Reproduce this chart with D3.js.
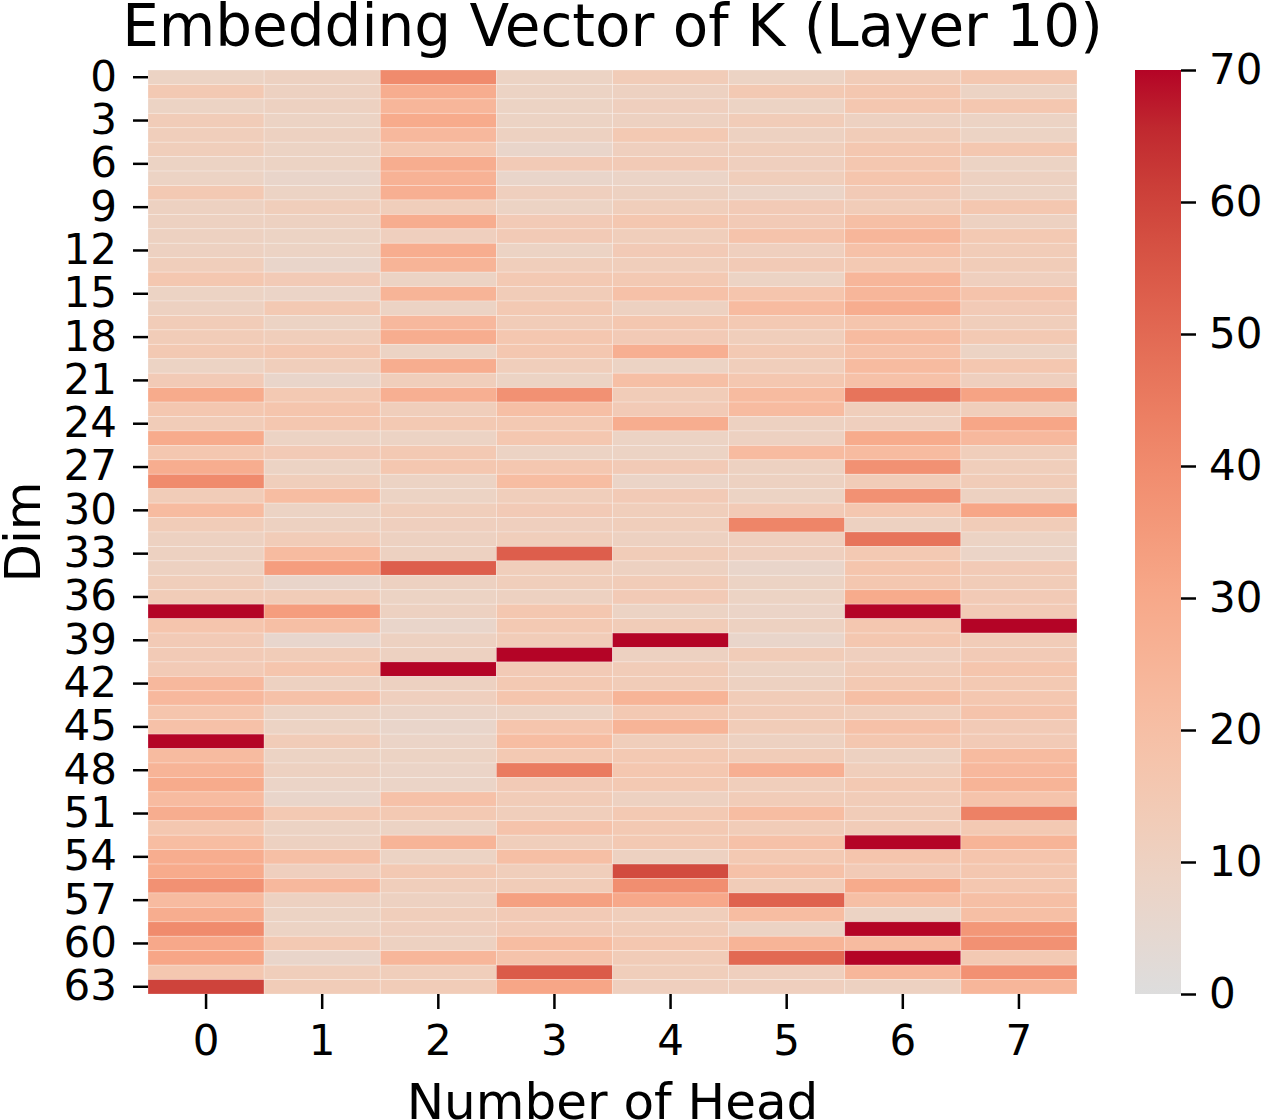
<!DOCTYPE html>
<html>
<head>
<meta charset="utf-8">
<script src="https://cdn.jsdelivr.net/npm/d3@7"></script>
<style>
  body { margin: 0; background: #fff; }
  text { font-family: "DejaVu Sans", sans-serif; fill: #000; }
</style>
</head>
<body>
<div id="viz"></div>
<script>
// values per head (dims 0..63)
const head0 = [9,15,9,13,12,12,9,9,15,10, 10,10,10,12,16,9,10,13,13,15, 9,14,29,16,13,29,16,28,40,13,
  22,13,10,10,10,12,13,70,17,14, 14,14,23,23,17,19,70,22,25,29, 22,28,16,21,28,29,38,22,28,40, 30,31,16,60];
const head1 = [10,10,10,9,10,9,9,7,9,12, 10,9,9,7,14,8,15,9,12,16, 12,7,15,17,16,9,14,9,12,21,
  9,10,13,22,34,7,13,34,20,6, 13,17,10,19,9,9,13,9,10,8, 7,15,9,10,20,11,23,10,9,9, 15,7,12,13];
const head2 = [40,28,24,29,23,16,28,26,27,12, 28,11,28,25,9,25,9,23,28,9, 28,12,27,12,15,9,15,16,9,9,
  12,11,10,10,53,10,9,10,7,10, 10,70,10,11,8,7,8,9,8,8, 19,15,9,25,9,15,12,10,12,11, 10,24,12,13];
const head3 = [9,9,9,9,10,7,14,7,11,9, 14,14,9,12,15,13,15,13,16,16, 12,9,38,20,15,16,9,16,21,12,
  14,11,12,53,12,12,10,16,15,13, 70,14,15,17,9,17,21,15,45,14, 13,12,18,12,20,12,13,33,14,14, 21,18,54,31];
const head4 = [13,10,11,10,15,11,14,8,10,12, 16,12,14,12,15,19,10,16,14,27, 9,20,13,14,28,9,9,14,8,14,
  12,12,10,13,10,13,14,9,13,70, 10,13,13,25,15,25,12,15,16,15, 10,15,15,15,10,58,39,30,12,13, 16,13,12,11];
const head5 = [9,15,9,13,10,12,11,12,8,14, 14,18,11,14,9,17,22,15,12,15, 12,16,22,22,10,10,22,10,10,9,
  14,42,11,11,7,9,9,8,10,7, 13,9,10,13,13,13,10,13,27,12, 13,21,13,19,15,19,13,52,21,9, 25,50,11,11];
const head6 = [13,16,16,10,13,16,16,17,14,13, 20,24,19,15,24,24,28,17,22,19, 22,19,47,12,11,29,22,38,13,38,
  16,10,47,15,17,16,29,70,16,16, 11,13,15,20,12,19,16,10,12,15, 13,13,13,70,17,14,29,20,9,70, 22,70,24,10];
const head7 = [16,9,16,9,9,16,9,10,9,16, 10,15,13,13,11,18,14,12,15,9, 16,11,32,12,31,23,12,12,13,10,
  31,13,9,8,14,13,14,14,70,13, 14,17,15,16,18,14,14,22,23,25, 18,43,15,25,17,16,16,20,20,36, 38,15,38,24];

const heads = [head0, head1, head2, head3, head4, head5, head6, head7];
const headLabels = d3.range(8);
const dims = d3.range(64);
const dimTicks = d3.range(0, 64, 3);
const cbarTicks = [0, 10, 20, 30, 40, 50, 60, 70];

// upper half of coolwarm
const cwStops = ["#dddddd","#e5d8d1","#ecd3c5","#f1ccb8","#f5c4ac","#f7bba0","#f7b194","#f7a788",
  "#f49a7b","#f18d6f","#ec7f63","#e57058","#de604d","#d55042","#cb3e38","#c0282f","#b40426"];

const W = 1262, H = 1120;
const margin = {top: 70, left: 148, right: 185, bottom: 126};
const plotR = 1077;

const svg = d3.select("#viz").append("svg")
  .attr("width", W).attr("height", H);

const x = d3.scaleBand().domain(headLabels).range([margin.left, plotR]);
const y = d3.scaleBand().domain(dims).range([margin.top, H - margin.bottom]);
const color = d3.scaleLinear()
  .domain(cwStops.map((c, i) => i * 70 / (cwStops.length - 1)))
  .range(cwStops)
  .clamp(true);

const cells = [];
heads.forEach((arr, h) => arr.forEach((v, d) => cells.push({h, d, v})));

svg.append("g").selectAll("rect")
  .data(cells)
  .enter().append("rect")
  .attr("x", c => x(c.h))
  .attr("y", c => y(c.d))
  .attr("width", x.bandwidth())
  .attr("height", y.bandwidth())
  .attr("fill", c => color(c.v))
  .attr("stroke", "rgba(255,255,255,0.3)")
  .attr("stroke-width", 0.8);

// axes
const xAxis = svg.append("g")
  .attr("transform", `translate(0,${H - margin.bottom})`)
  .call(d3.axisBottom(x).tickSize(15).tickPadding(16));
const yAxis = svg.append("g")
  .attr("transform", `translate(${margin.left},0)`)
  .call(d3.axisLeft(y).tickValues(dimTicks).tickSize(15).tickPadding(16));
[xAxis, yAxis].forEach(a => {
  a.select(".domain").remove();
  a.selectAll(".tick line").attr("stroke", "#000").attr("stroke-width", 2.5);
  a.selectAll(".tick text").style("font-size", "42px").style("font-family", "DejaVu Sans");
});

// colorbar
const cbX = 1135, cbW = 46;
const defs = svg.append("defs");
const grad = defs.append("linearGradient").attr("id", "cb")
  .attr("x1", 0).attr("y1", 1).attr("x2", 0).attr("y2", 0);
cwStops.forEach((c, i) => grad.append("stop")
  .attr("offset", i / (cwStops.length - 1)).attr("stop-color", c));
svg.append("rect")
  .attr("x", cbX).attr("y", margin.top)
  .attr("width", cbW).attr("height", H - margin.bottom - margin.top)
  .attr("fill", "url(#cb)");
const cb = d3.scaleLinear().domain([0, 70]).range([H - margin.bottom, margin.top]);
const cAxis = svg.append("g")
  .attr("transform", `translate(${cbX + cbW},0)`)
  .call(d3.axisRight(cb).tickValues(cbarTicks).tickSize(15).tickPadding(13));
cAxis.select(".domain").remove();
cAxis.selectAll(".tick line").attr("stroke", "#000").attr("stroke-width", 2.5);
cAxis.selectAll(".tick text").style("font-size", "42px").style("font-family", "DejaVu Sans");

// titles
svg.append("text")
  .attr("x", (margin.left + plotR) / 2).attr("y", 46)
  .attr("text-anchor", "middle").style("font-size", "58px")
  .text("Embedding Vector of K (Layer 10)");
svg.append("text")
  .attr("x", (margin.left + plotR) / 2).attr("y", 1119)
  .attr("text-anchor", "middle").style("font-size", "50px")
  .text("Number of Head");
svg.append("text")
  .attr("transform", `translate(40,${(margin.top + H - margin.bottom) / 2}) rotate(-90)`)
  .attr("text-anchor", "middle").style("font-size", "50px")
  .text("Dim");
</script>
</body>
</html>
